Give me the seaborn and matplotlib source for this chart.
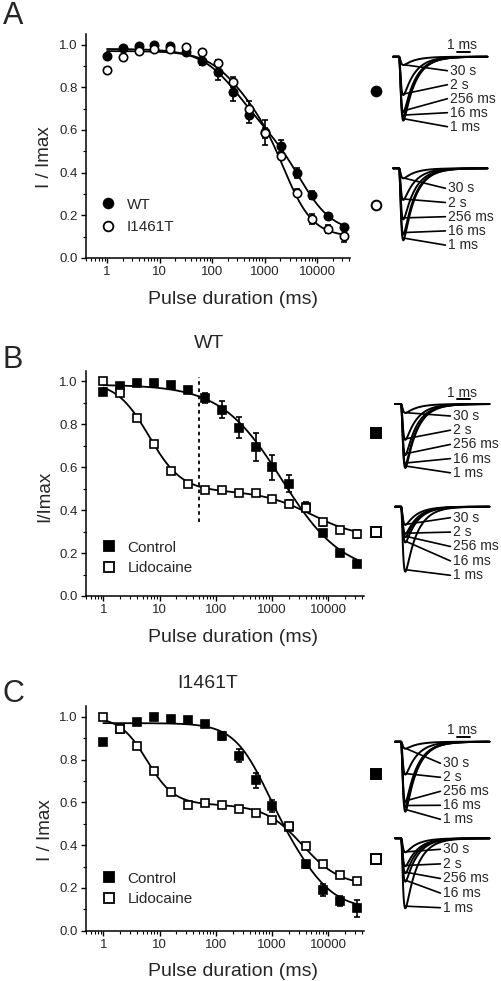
import numpy as np
import pandas as pd
import matplotlib
matplotlib.use("Agg")
import matplotlib.pyplot as plt
from matplotlib.lines import Line2D
from matplotlib.ticker import LogLocator, NullFormatter, FixedLocator, FixedFormatter, MultipleLocator, FormatStrFormatter
import seaborn as sns

# ---------------- data ----------------
durations_ms = [1, 2, 4, 8, 16, 32, 64, 128, 256, 512, 1024, 2048, 4096, 8192, 16384, 32768]

# Panel A: WT vs I1461T
a_wt = [0.948, 0.984, 0.995, 1.0, 0.995, 0.965, 0.925, 0.87, 0.78, 0.67, 0.59, 0.525, 0.40, 0.295, 0.197, 0.144]
a_wt_err = [0, 0, 0, 0, 0, 0.005, 0.02, 0.034, 0.045, 0.035, 0.058, 0.03, 0.023, 0.02, 0.015, 0.012]
a_mut = [0.883, 0.942, 0.968, 0.978, 0.982, 0.99, 0.965, 0.914, 0.825, 0.70, 0.585, 0.479, 0.307, 0.182, 0.136, 0.103]
a_mut_err = [0, 0, 0, 0, 0, 0, 0.005, 0.015, 0.023, 0.035, 0.023, 0.015, 0.015, 0.023, 0.018, 0.03]

# Panel B: WT control vs lidocaine
b_ctrl = [0.95, 0.981, 0.994, 0.994, 0.985, 0.961, 0.924, 0.868, 0.785, 0.695, 0.599, 0.524, 0.415, 0.294, 0.201, 0.147]
b_ctrl_err = [0.01, 0, 0, 0, 0, 0.005, 0.023, 0.039, 0.05, 0.065, 0.059, 0.039, 0.023, 0.015, 0.008, 0.008]
b_lido = [1.0, 0.946, 0.829, 0.710, 0.583, 0.521, 0.496, 0.493, 0.478, 0.478, 0.45, 0.431, 0.408, 0.343, 0.307, 0.29]
b_lido_err = [0, 0.005, 0.005, 0.005, 0.005, 0.005, 0.008, 0.008, 0.012, 0.012, 0.012, 0.015, 0.018, 0.018, 0.015, 0.018]

# Panel C: I1461T control vs lidocaine
c_ctrl = [0.88, 0.941, 0.973, 0.997, 0.991, 0.986, 0.964, 0.91, 0.818, 0.702, 0.584, 0.484, 0.31, 0.19, 0.138, 0.104]
c_ctrl_err = [0.005, 0, 0, 0, 0, 0, 0, 0.019, 0.031, 0.034, 0.028, 0.012, 0.018, 0.028, 0.023, 0.04]
c_lido = [1.0, 0.941, 0.862, 0.744, 0.648, 0.586, 0.598, 0.586, 0.567, 0.55, 0.516, 0.488, 0.396, 0.314, 0.26, 0.233]
c_lido_err = [0, 0, 0.005, 0.005, 0.005, 0.005, 0.005, 0.005, 0.005, 0.005, 0.008, 0.008, 0.008, 0.008, 0.008, 0.008]

# Fit parameters (double Boltzmann): [bottom, A1, t1, n1, A2, t2, n2]
fit_a_wt = [0.12, 0.40, 300, 1.2, 0.46, 5000, 1.4]
fit_a_mut = [0.10, 0.30, 300, 1.3, 0.57, 2500, 1.6]
fit_b_ctrl = [0.10, 0.885, 1500, 0.8, 0.0, 1000, 1.0]
fit_b_lido = [0.27, 0.51, 6.5, 1.5, 0.22, 5000, 1.0]
fit_c_ctrl = [0.10, 0.50, 700, 1.5, 0.37, 4000, 1.3]
fit_c_lido = [0.21, 0.41, 6.0, 1.8, 0.38, 3500, 1.3]

# Inset traces: relative peak amplitudes for each prepulse duration
trace_labels = ["30 s", "2 s", "256 ms", "16 ms", "1 ms"]
ins_a_wt = [0.13, 0.60, 0.87, 0.94, 1.0]
ins_a_mut = [0.14, 0.44, 0.71, 0.92, 1.0]
ins_b_ctrl = [0.14, 0.56, 0.80, 0.95, 1.0]
ins_b_lido = [0.28, 0.42, 0.47, 0.55, 1.0]
ins_c_ctrl = [0.10, 0.47, 0.87, 0.94, 1.0]
ins_c_lido = [0.20, 0.40, 0.50, 0.62, 1.0]

# ---------------- style ----------------
sns.set_theme(style="ticks")
plt.rcParams["font.family"] = ["Liberation Sans", "DejaVu Sans"]
plt.rcParams["axes.linewidth"] = 1.1

W, H = 502, 981
fig = plt.figure(figsize=(W / 100, H / 100), dpi=100)
fig.patch.set_facecolor("white")


def box(l, t, r, b):
    return [l / W, 1 - b / H, (r - l) / W, (b - t) / H]


def fit_curve(t, p):
    b, a1, t1, n1, a2, t2, n2 = p
    return b + a1 / (1 + (t / t1) ** n1) + a2 / (1 + (t / t2) ** n2)


tgrid = np.logspace(0, np.log10(34000), 400)


def style_axes(ax, xlim):
    ax.set_xscale("log")
    ax.set_xlim(*xlim)
    ax.set_ylim(0, 1.05)
    sns.despine(ax=ax)
    ax.xaxis.set_major_locator(FixedLocator([1, 10, 100, 1000, 10000]))
    ax.xaxis.set_major_formatter(FixedFormatter(["1", "10", "100", "1000", "10000"]))
    ax.xaxis.set_minor_locator(LogLocator(base=10, subs=np.arange(2, 10), numticks=20))
    ax.xaxis.set_minor_formatter(NullFormatter())
    ax.yaxis.set_major_locator(MultipleLocator(0.2))
    ax.yaxis.set_major_formatter(FormatStrFormatter("%.1f"))
    ax.yaxis.set_minor_locator(MultipleLocator(0.1))
    ax.tick_params(which="major", direction="out", length=3.6, width=1.0, labelsize=9.5, pad=2.5, color="black")
    ax.tick_params(which="minor", direction="out", length=2.0, width=0.8, color="black")
    ax.set_facecolor("white")
    for s in ["left", "bottom"]:
        ax.spines[s].set_color("black")


def plot_series(ax, y, err, p, marker, filled, ms):
    df = pd.DataFrame({"t": durations_ms, "y": y, "err": err})
    fit_df = pd.DataFrame({"t": tgrid, "y": fit_curve(tgrid, p)})
    sns.lineplot(data=fit_df, x="t", y="y", ax=ax, color="black", lw=1.3,
                 estimator=None, sort=False, errorbar=None, zorder=2)
    ax.errorbar(df["t"], df["y"], yerr=df["err"], fmt="none", ecolor="black",
                elinewidth=1.2, capsize=2, capthick=1.2, zorder=3)
    ax.plot(df["t"], df["y"], ls="none", marker=marker, ms=ms,
            mfc="black" if filled else "white", mec="black", mew=1.2, zorder=4)


def legend(ax, items, y_anchor, spacing):
    handles = [Line2D([], [], ls="none", marker=m, ms=ms, mfc="black" if f else "white",
                      mec="black", mew=1.3) for (m, f, ms, _) in items]
    labels = [lab for (_, _, _, lab) in items]
    ax.legend(handles, labels, loc="upper left", bbox_to_anchor=(0.055, y_anchor),
              frameon=False, fontsize=11, handlelength=1.0, handletextpad=0.7,
              labelspacing=spacing, borderpad=0, borderaxespad=0)


def axis_labels(ax, ylabel, ax_box_px, xlab_center_px, ylab_center_px):
    l, t, r, b = ax_box_px
    ax.set_xlabel("Pulse duration (ms)", fontsize=14)
    ax.set_ylabel(ylabel, fontsize=13.5)
    ax.xaxis.set_label_coords((xlab_center_px[0] - l) / (r - l), (b - xlab_center_px[1]) / (b - t))
    ax.xaxis.label.set_va("center")
    ax.yaxis.set_label_coords((ylab_center_px[0] - l) / (r - l), (b - ylab_center_px[1]) / (b - t))
    ax.yaxis.label.set_va("center")


# ---------------- Panel A ----------------
boxA = (86, 34, 350, 258)
axA = fig.add_axes(box(*boxA))
plot_series(axA, a_wt, a_wt_err, fit_a_wt, "o", True, 6.0)
plot_series(axA, a_mut, a_mut_err, fit_a_mut, "o", False, 6.0)
style_axes(axA, (0.398, 42500))
axis_labels(axA, "I / Imax", boxA, (233, 299), (45, 157))
legend(axA, [("o", True, 7, "WT"), ("o", False, 7, "I1461T")], 0.269, 0.57)

# ---------------- Panel B ----------------
boxB = (86, 370.7, 364, 596)
axB = fig.add_axes(box(*boxB))
plot_series(axB, b_ctrl, b_ctrl_err, fit_b_ctrl, "s", True, 5.6)
plot_series(axB, b_lido, b_lido_err, fit_b_lido, "s", False, 5.6)
style_axes(axB, (0.492, 43500))
axB.axvline(50, ymin=0.345 / 1.05, ymax=1.02 / 1.05, color="black", lw=1.3, ls=(0, (2, 2)), zorder=1)
axis_labels(axB, "I/Imax", boxB, (233, 638), (45, 496))
legend(axB, [("s", True, 6.5, "Control"), ("s", False, 6.5, "Lidocaine")], 0.246, 0.45)

# ---------------- Panel C ----------------
boxC = (86, 706, 364, 930.7)
axC = fig.add_axes(box(*boxC))
plot_series(axC, c_ctrl, c_ctrl_err, fit_c_ctrl, "s", True, 5.6)
plot_series(axC, c_lido, c_lido_err, fit_c_lido, "s", False, 5.6)
style_axes(axC, (0.492, 43500))
axis_labels(axC, "I / Imax", boxC, (233, 972), (45, 830))
legend(axC, [("s", True, 6.5, "Control"), ("s", False, 6.5, "Lidocaine")], 0.262, 0.42)

# Panel letters and titles
for letter, (x, y) in zip("ABC", [(13, 16), (13, 360), (13, 694)]):
    fig.text(x / W, 1 - y / H, letter, fontsize=22, ha="center", va="center")
fig.text(209 / W, 1 - 343 / H, "WT", fontsize=14, ha="center", va="center")
fig.text(208 / W, 1 - 684 / H, "I1461T", fontsize=14, ha="center", va="center")

# ---------------- Inset current traces ----------------
PX_PER_MS = 13.0
tau_m, tau_h = 0.10, 0.9
t_tr = np.linspace(-0.45, 6.8, 400)


def waveform(t):
    tt = np.clip(t, 0, None)
    g = (1 - np.exp(-tt / tau_m)) ** 3 * np.exp(-tt / tau_h)
    return g


g_peak = waveform(np.linspace(0, 3, 3000)).max()


def inset(base, depth, onset, lab_x, first_off, step, marker_xy, marker, filled, peaks, scalebar):
    top_ext, bot_ext = 30, 85
    ax = fig.add_axes(box(365, base - top_ext, 502, base + bot_ext))
    ax.set_xlim((365 - onset) / PX_PER_MS, (502 - onset) / PX_PER_MS)
    ax.set_ylim(-bot_ext / depth, top_ext / depth)
    ax.axis("off")
    g = waveform(t_tr) / g_peak
    tpk = t_tr[np.argmax(g)]
    for i, (amp, lab) in enumerate(zip(peaks, trace_labels)):
        ax.plot(t_tr, -amp * g, color="black", lw=1.4, solid_capstyle="round")
        ly = -(first_off + i * step) / depth
        lx = (lab_x - onset) / PX_PER_MS
        ax.text(lx, ly, lab, fontsize=10, ha="left", va="center")
        ax.plot([tpk + 0.05, lx - 0.2], [-amp * 0.97, ly], color="black", lw=1.2)
    mx = (marker_xy[0] - onset) / PX_PER_MS
    my = -(marker_xy[1] - base) / depth
    ax.plot([mx], [my], ls="none", marker=marker, ms=7 if marker == "o" else 6.5,
            mfc="black" if filled else "white", mec="black", mew=1.4)
    if scalebar:
        sx = (457 - onset) / PX_PER_MS
        ax.plot([sx, sx + 1.0], [5 / depth, 5 / depth], color="black", lw=1.4)
        ax.text(sx + 0.35, 7.5 / depth, "1 ms", fontsize=10, ha="center", va="baseline")


inset(56.7, 64, 399, 450, 14, 14, (376, 90.7), "o", True, ins_a_wt, True)
inset(168.3, 72, 399, 448, 20, 14.2, (376, 205), "o", False, ins_a_mut, False)
inset(404, 64, 401, 453, 12, 14.2, (376, 433.3), "s", True, ins_b_ctrl, True)
inset(506.7, 65, 401, 453, 11, 14.4, (376, 531.7), "s", False, ins_b_lido, False)
inset(741.7, 70, 401, 443, 21.6, 14, (376, 774.3), "s", True, ins_c_ctrl, True)
inset(838.3, 70, 401, 443, 11, 14.6, (376, 859.3), "s", False, ins_c_lido, False)

fig.savefig("out.png", dpi=100, facecolor="white")
